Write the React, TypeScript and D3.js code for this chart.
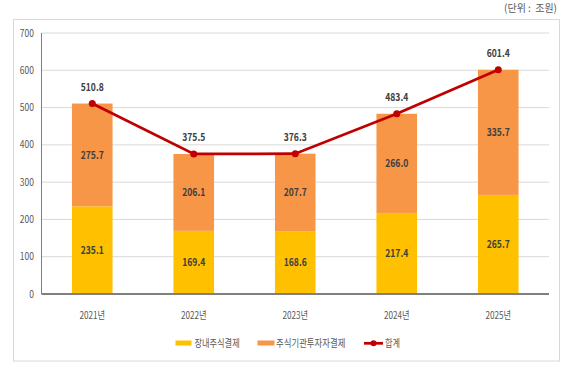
import React from "react";
import * as d3 from "d3";

const categories = ["2021년", "2022년", "2023년", "2024년", "2025년"];
const onExchange = [235.1, 169.4, 168.6, 217.4, 265.7];
const institutional = [275.7, 206.1, 207.7, 266.0, 335.7];
const totals = [510.8, 375.5, 376.3, 483.4, 601.4];
const yTicks = [0, 100, 200, 300, 400, 500, 600, 700];
const seriesNames = ["장내주식결제", "주식기관투자자결제", "합계"];
const unitLabel = "(단위\u00A0:\u00A0\u00A0조원)";

const W = 566;
const H = 377;
const FONT = "'Noto Sans CJK KR', 'Noto Sans', sans-serif";
const C_YELLOW = "#FFC000";
const C_ORANGE = "#F79646";
const C_LINE = "#C00000";
const C_TEXT = "#404040";
const C_AXIS = "#595959";

type NTProps = {
  x: number;
  y: number;
  sx?: number;
  anchor?: "start" | "middle" | "end";
  size: number;
  weight?: string;
  fill: string;
  children: React.ReactNode;
};

function NText({ x, y, sx = 0.8, anchor = "middle", size, weight = "normal", fill, children }: NTProps) {
  return (
    <text
      transform={`translate(${x},${y}) scale(${sx},1)`}
      dy="0.35em"
      textAnchor={anchor}
      fontSize={size}
      fontWeight={weight}
      fill={fill}
    >
      {children}
    </text>
  );
}

export default function App() {
  const left = 41.5, right = 549, top = 33, bottom = 294;
  const x = d3.scaleBand<string>().domain(categories).range([left, right]).paddingInner(0.6).paddingOuter(0.3);
  const y = d3.scaleLinear().domain([0, 700]).range([bottom, top]);
  const bw = x.bandwidth();
  const cx = (c: string) => (x(c) as number) + bw / 2;
  const line = d3.line<number>().x((_, i) => cx(categories[i])).y((v) => y(v));

  return (
    <svg width={W} height={H} style={{ position: "absolute", left: 0, top: 0, background: "#fff" }} fontFamily={FONT}>
      <rect x={13.5} y={19.5} width={546} height={341.5} fill="#fff" stroke="#D9D9D9" />
      <NText x={557} y={8.5} anchor="end" size={10.5} sx={0.95} fill={C_AXIS}>{unitLabel}</NText>
      {yTicks.map((t) => (
        <g key={t}>
          {t > 0 && <line x1={left} x2={right} y1={y(t)} y2={y(t)} stroke="#D9D9D9" />}
          <NText x={34} y={y(t)} anchor="end" size={10} sx={0.85} fill={C_AXIS}>{t}</NText>
        </g>
      ))}
      {categories.map((c, i) => (
        <g key={c}>
          <rect x={x(c)} y={y(onExchange[i])} width={bw} height={y(0) - y(onExchange[i])} fill={C_YELLOW} />
          <rect x={x(c)} y={y(totals[i])} width={bw} height={y(onExchange[i]) - y(totals[i])} fill={C_ORANGE} />
          <NText x={cx(c)} y={(y(0) + y(onExchange[i])) / 2} size={11} weight="bold" sx={0.78} fill={C_TEXT}>{onExchange[i].toFixed(1)}</NText>
          <NText x={cx(c)} y={(y(onExchange[i]) + y(totals[i])) / 2} size={11} weight="bold" sx={0.78} fill={C_TEXT}>{institutional[i].toFixed(1)}</NText>
          <NText x={cx(c)} y={y(totals[i]) - 16.5} size={11} weight="bold" sx={0.78} fill={C_TEXT}>{totals[i].toFixed(1)}</NText>
          <NText x={cx(c)} y={315} size={10} sx={0.82} fill={C_AXIS}>{c}</NText>
        </g>
      ))}
      <line x1={left} x2={left} y1={top} y2={bottom} stroke="#7F7F7F" />
      <line x1={left} x2={right} y1={bottom} y2={bottom} stroke="#7F7F7F" strokeWidth={1.8} />
      <path d={line(totals) || ""} fill="none" stroke={C_LINE} strokeWidth={2.75} />
      {totals.map((v, i) => (
        <circle key={i} cx={cx(categories[i])} cy={y(v)} r={3.5} fill={C_LINE} />
      ))}
      <g>
        <rect x={175.5} y={340.5} width={16} height={5} fill={C_YELLOW} />
        <NText x={194.5} y={343.3} anchor="start" size={10} sx={0.82} fill={C_AXIS}>{seriesNames[0]}</NText>
        <rect x={257.5} y={340.5} width={17} height={5} fill={C_ORANGE} />
        <NText x={276} y={343.3} anchor="start" size={10} sx={0.84} fill={C_AXIS}>{seriesNames[1]}</NText>
        <line x1={364} x2={383} y1={343.3} y2={343.3} stroke={C_LINE} strokeWidth={2.75} />
        <circle cx={373.5} cy={343.3} r={3} fill={C_LINE} />
        <NText x={385} y={343.3} anchor="start" size={10} sx={0.82} fill={C_AXIS}>{seriesNames[2]}</NText>
      </g>
    </svg>
  );
}
